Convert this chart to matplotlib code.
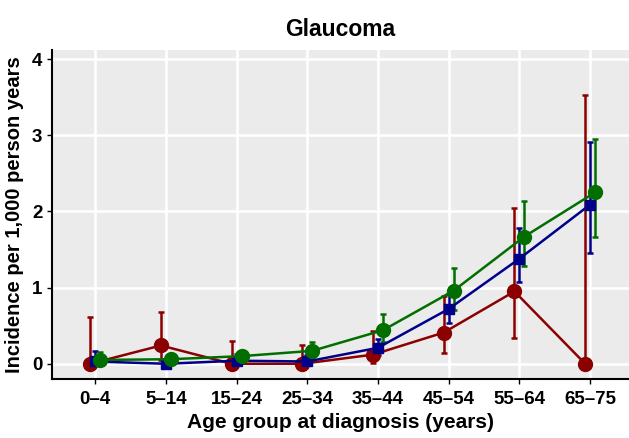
import numpy as np
import matplotlib
matplotlib.use('Agg')
import matplotlib.pyplot as plt

plt.rcParams['font.family'] = ['Liberation Sans', 'DejaVu Sans']
plt.rcParams['font.weight'] = 'bold'

ages = ['0–4', '5–14', '15–24', '25–34', '35–44', '45–54', '55–64', '65–75']

# red series (circles)
red = [0.00, 0.24, 0.00, 0.00, 0.12, 0.41, 0.95, 0.00]
red_lo = [0.00, 0.05, 0.00, 0.00, 0.01, 0.14, 0.34, 0.00]
red_hi = [0.62, 0.68, 0.30, 0.25, 0.43, 0.89, 2.05, 3.53]

# blue series (squares)
blue = [0.03, 0.00, 0.04, 0.03, 0.21, 0.72, 1.38, 2.09]
blue_lo = [0.00, 0.00, 0.00, 0.00, 0.12, 0.54, 1.07, 1.46]
blue_hi = [0.17, 0.05, 0.13, 0.12, 0.33, 0.92, 1.78, 2.91]

# green series (circles)
green = [0.05, 0.06, 0.10, 0.17, 0.44, 0.96, 1.67, 2.25]
green_lo = [0.00, 0.02, 0.05, 0.08, 0.29, 0.70, 1.28, 1.67]
green_hi = [0.15, 0.10, 0.14, 0.29, 0.65, 1.26, 2.14, 2.95]

x = np.arange(1, len(ages) + 1)

fig = plt.figure(figsize=(6.29, 4.38), dpi=100)
ax = fig.add_axes([0.0827, 0.1347, 0.9173, 0.7511])
ax.set_facecolor('#EBEBEB')

series = [
    (red, red_lo, red_hi, '#8B0000', 'o', 10, -0.07),
    (blue, blue_lo, blue_hi, '#00008B', 's', 7, 0.0),
    (green, green_lo, green_hi, '#006F00', 'o', 10, 0.07),
]
for y, lo, hi, col, mk, ms, dx in series:
    y = np.array(y)
    err = [y - np.array(lo), np.array(hi) - y]
    ax.errorbar(x + dx, y, yerr=err, color=col, marker=mk, ms=ms, lw=1.8,
                elinewidth=1.8, capsize=2, capthick=1.8, zorder=3)

ax.set_xlim(0.39, 8.55)
ax.set_ylim(-0.2, 4.12)
ax.set_xticks(x)
ax.set_xticklabels(ages)
ax.set_yticks([0, 1, 2, 3, 4])
ax.grid(True, color='white', lw=1.8, zorder=0)
ax.set_axisbelow(True)
for s in ['top', 'right']:
    ax.spines[s].set_visible(False)
for s in ['left', 'bottom']:
    ax.spines[s].set_linewidth(1.5)
ax.tick_params(length=3.5, width=1.0, labelsize=13.5, colors='black')
ax.tick_params(axis='x', pad=5)

ax.set_xlabel('Age group at diagnosis (years)', fontsize=15, fontweight='bold', labelpad=4)
ax.set_ylabel('Incidence per 1,000 person years', fontsize=14.5, fontweight='bold', labelpad=6)
ax.set_title('Glaucoma', fontsize=16.5, fontweight='bold', pad=10)

fig.savefig('out.png', dpi=100)
